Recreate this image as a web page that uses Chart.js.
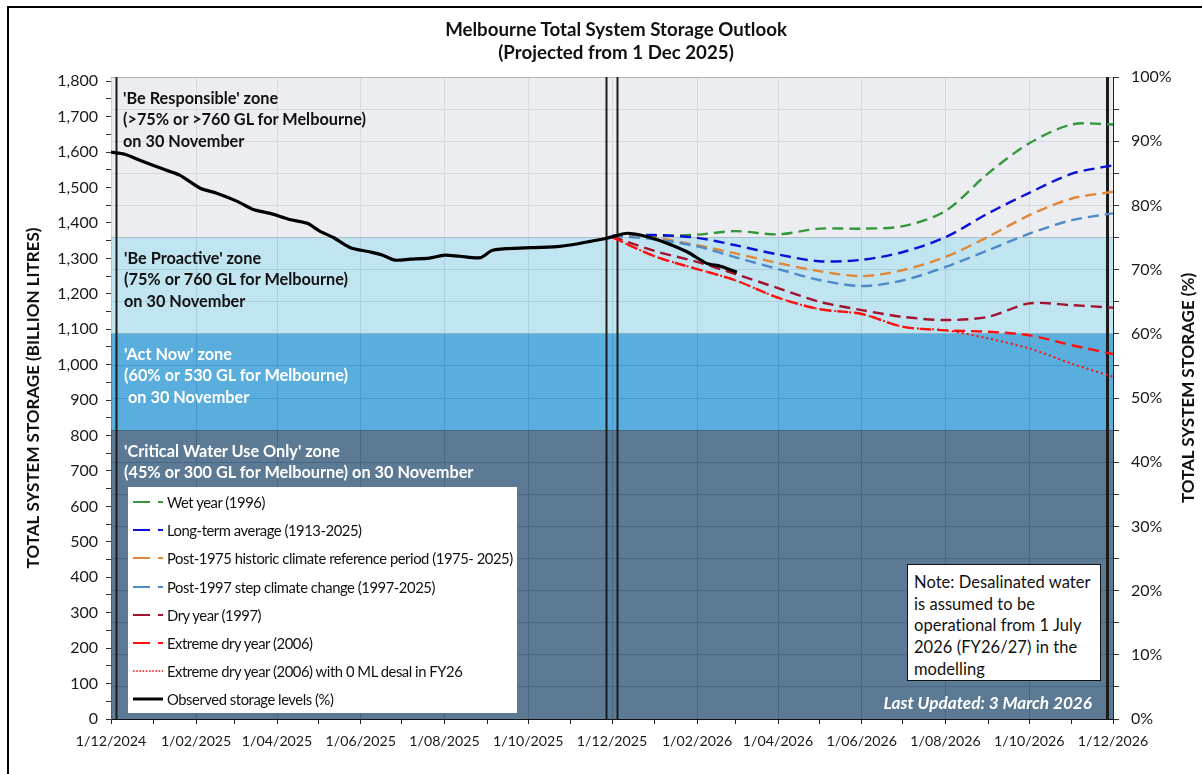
<!DOCTYPE html>
<html><head><meta charset="utf-8">
<script src="https://cdn.jsdelivr.net/npm/chart.js@4"></script>
<style>
body{margin:0;background:#fff;font-family:Lato,'Open Sans',sans-serif;}
#wrap{position:relative;width:1202px;height:774px;overflow:hidden;background:#fff;}
#frame{position:absolute;left:7px;top:6px;width:1400px;height:1000px;border-left:2px solid #000;border-top:2px solid #000;pointer-events:none;}
#cv{position:absolute;left:0;top:0;}
.t{position:absolute;white-space:nowrap;}
.zone{font-weight:700;font-size:16.3px;line-height:21.3px;}
#title{left:616px;top:18px;transform:translateX(-50%);text-align:center;font-weight:700;font-size:18.7px;line-height:23px;color:#111;}
#rtitle{left:1187px;top:388px;transform:translate(-50%,-50%) rotate(-90deg);font-weight:700;font-size:17px;color:#111;}
#legend{position:absolute;left:128px;top:487px;width:389px;height:226px;background:#fff;}
.li{position:absolute;left:0;height:28px;display:flex;align-items:center;white-space:nowrap;}
.li svg{margin-left:5px;margin-right:4px;flex:none;}
.li span{font-size:14.8px;letter-spacing:-0.45px;color:#111;white-space:nowrap;}
#note{position:absolute;left:907px;top:564px;width:192px;height:115px;background:#fff;border:1.5px solid #111;box-sizing:content-box;}
#note div{padding:7px 0 0 6px;font-size:16.5px;line-height:21.7px;color:#111;letter-spacing:0.05px;white-space:nowrap;}
#upd{right:110px;top:692px;font-weight:700;font-style:italic;font-size:17.2px;color:#fff;line-height:22px;}
</style></head>
<body>
<div id="wrap">
<canvas id="cv" width="1202" height="774"></canvas>
<div id="frame"></div>
<div id="title" class="t">Melbourne Total System Storage Outlook<br>(Projected from 1 Dec 2025)</div>
<div class="t zone" style="left:123px;top:87px;color:#111">'Be Responsible' zone<br>(&gt;75% or &gt;760 GL for Melbourne)<br>on 30 November</div>
<div class="t zone" style="left:124px;top:247px;color:#111">'Be Proactive' zone<br>(75% or 760 GL for Melbourne)<br>on 30 November</div>
<div class="t zone" style="left:124px;top:343px;color:#fff">'Act Now' zone<br>(60% or 530 GL for Melbourne)<br>&nbsp;on 30 November</div>
<div class="t zone" style="left:124px;top:440px;color:#fff">'Critical Water Use Only' zone<br>(45% or 300 GL for Melbourne) on 30 November</div>
<div id="rtitle" class="t">TOTAL SYSTEM STORAGE (%)</div>
<div id="legend"></div>
<div id="note"><div>Note: Desalinated water<br>is assumed to be<br>operational from 1 July<br>2026 (FY26/27) in the<br>modelling</div></div>
<div id="upd" class="t">Last Updated: 3 March 2026</div>
</div>
<script>
// ---------- DATA ----------
const xStart = '2024-12-01';
const xEnd = '2026-12-01';
const capacityGL = 1812;

const obsDates = ['2024-12-01','2024-12-11','2024-12-22','2025-01-08','2025-01-20','2025-02-04','2025-02-16','2025-03-03','2025-03-14','2025-03-27','2025-04-10','2025-04-23','2025-05-02','2025-05-12','2025-05-24','2025-06-08','2025-06-17','2025-06-26','2025-07-07','2025-07-21','2025-08-01','2025-08-12','2025-08-27','2025-09-05','2025-09-25','2025-10-10','2025-10-24','2025-11-04','2025-11-15','2025-11-27','2025-12-02','2025-12-12','2025-12-26','2026-01-10','2026-01-25','2026-02-08','2026-02-18','2026-03-02'];
const obsValues = [1600,1594,1577,1552,1535,1498,1484,1461,1439,1427,1410,1399,1377,1359,1331,1318,1309,1295,1298,1301,1309,1306,1302,1323,1329,1331,1334,1340,1348,1357,1362,1371,1362,1343,1318,1286,1278,1261];

const projDates = ['2025-12-01','2026-01-01','2026-02-01','2026-03-01','2026-04-01','2026-05-01','2026-06-01','2026-07-01','2026-08-01','2026-09-01','2026-10-01','2026-11-01','2026-12-01'];
const wetYear       = [1363,1363,1367,1377,1368,1384,1384,1391,1434,1540,1625,1678,1678];
const longTermAvg   = [1364,1366,1358,1337,1311,1292,1296,1318,1360,1427,1485,1539,1563];
const post1975      = [1364,1358,1337,1314,1287,1264,1250,1267,1304,1361,1422,1469,1488];
const post1997      = [1364,1354,1334,1303,1270,1239,1222,1238,1276,1323,1370,1408,1427];
const dryYear       = [1362,1321,1290,1256,1216,1178,1154,1135,1126,1135,1173,1168,1161];
const extremeDry    = [1360,1306,1270,1238,1189,1157,1143,1107,1097,1093,1083,1055,1030];
const extremeDryNoDesal = [1360,1306,1270,1238,1189,1157,1143,1107,1097,1074,1046,1003,966];

const zoneTops = [815.4, 1087.2, 1359, 1812];   // GL (45%, 60%, 75%, 100%)
const markerDates = ['2024-12-05','2025-11-27','2025-12-05','2026-11-27'];

const seriesLabels = ['Wet year (1996)','Long-term average (1913-2025)','Post-1975 historic climate reference period (1975- 2025)','Post-1997 step climate change (1997-2025)','Dry year (1997)','Extreme dry year (2006)','Extreme dry year (2006) with 0 ML desal in FY26','Observed storage levels (%)'];
const seriesColors = ['#35963a','#0a12d6','#e0883a','#4e89c9','#a3122e','#ff1010','#ff1010','#000000'];
const zoneColors = ['rgba(64,99,129,0.85)','rgba(61,160,216,0.85)','rgba(181,223,237,0.85)','rgba(233,234,237,0.85)'];

// ---------- HELPERS ----------
const toDay = s => { const [y,m,d] = s.split('-').map(Number); return Date.UTC(y,m-1,d)/86400000; };
const fmt = day => { const dt = new Date(Math.round(day)*86400000); return dt.getUTCDate()+'/'+String(dt.getUTCMonth()+1).padStart(2,'0')+'/'+dt.getUTCFullYear(); };
const pts = (dates, vals) => dates.map((d,i)=>({x:toDay(d), y:vals[i]}));
const x0 = toDay(xStart), x1 = toDay(xEnd);

Chart.defaults.font.family = 'Lato';
const gridCol = 'rgb(120,126,132)';

const datasets = [];
zoneTops.forEach((top,i)=>{
  datasets.push({
    data:[{x:x0,y:top},{x:x1,y:top}],
    borderWidth: i===3 ? 1.2 : 0,
    borderColor: i===3 ? '#8c8c8c' : 'rgba(0,0,0,0)',
    backgroundColor: zoneColors[i],
    fill: i===0 ? 'origin' : i-1,
    pointRadius:0, order:100+i, tension:0
  });
});
markerDates.forEach((d,i)=>{
  datasets.push({data:[{x:toDay(d),y:0},{x:toDay(d),y:capacityGL}], borderColor:'#1c1c1c', borderWidth: i===3?3:2, pointRadius:0, fill:false, order:50});
});
const proj = [wetYear,longTermAvg,post1975,post1997,dryYear,extremeDry];
proj.forEach((vals,i)=>{
  datasets.push({data:pts(projDates,vals), borderColor:seriesColors[i], borderWidth:2.4, borderDash:[11,6], pointRadius:0, fill:false, tension:0.3, order:10-i});
});
datasets.push({data:pts(projDates,extremeDryNoDesal), borderColor:seriesColors[6], borderWidth:2, borderDash:[2,3], pointRadius:0, fill:false, tension:0.3, order:2});
datasets.push({data:pts(obsDates,obsValues), borderColor:'#000', borderWidth:3.2, pointRadius:0, fill:false, tension:0.25, order:0});

const monthTicks = [];
{ let y=2024, m=11; while (true) { const d = Date.UTC(y,m,1)/86400000; if (d > x1) break; monthTicks.push(d); m++; if (m>11){m=0;y++;} } }

new Chart(document.getElementById('cv'), {
  type:'line',
  data:{datasets},
  options:{
    responsive:false, animation:false,
    layout:{padding:{top:77,left:0,right:0,bottom:0}},
    plugins:{legend:{display:false}, tooltip:{enabled:false}, title:{display:false}},
    scales:{
      x:{type:'linear', min:x0, max:x1, position:'bottom',
        afterBuildTicks: s => { s.ticks = monthTicks.map(v=>({value:v})); },
        afterFit: s => { s.height = 55; },
        ticks:{autoSkip:false, maxRotation:0, minRotation:0, padding:9, color:'#1a1a1a', font:{size:14.2},
          callback:(v,i)=> i%2===0 ? fmt(v) : ''},
        grid:{color: c => (c.index%2===0 ? gridCol : 'rgba(0,0,0,0)'), tickColor:'#222', tickLength:5, lineWidth:1},
        border:{color:'#111', width:1}
      },
      y:{type:'linear', position:'left', min:0, max:capacityGL,
        afterBuildTicks: s => { const t=[]; for(let v=0; v<=1800; v+=50) t.push({value:v}); s.ticks=t; },
        afterFit: s => { s.width = 111; },
        ticks:{autoSkip:false, padding:8, color:'#1a1a1a', font:{size:16},
          callback: v => v%100===0 ? v.toLocaleString('en-US') : ''},
        grid:{drawOnChartArea:false, tickColor:'#333', tickLength:5},
        border:{color:'#555', width:1},
        title:{display:true, text:'TOTAL SYSTEM STORAGE (BILLION LITRES)', color:'#111', font:{size:17, weight:'bold'}, padding:{top:23,bottom:0}}
      },
      y2:{type:'linear', position:'right', min:0, max:100,
        afterBuildTicks: s => { const t=[]; for(let v=0; v<=100; v+=5) t.push({value:v}); s.ticks=t; },
        afterFit: s => { s.width = 89; },
        ticks:{autoSkip:false, padding:12, color:'#1a1a1a', font:{size:16},
          callback: v => v%10===0 ? v+'%' : ''},
        grid:{color:gridCol, tickColor:'#333', tickLength:6, lineWidth:1},
        border:{color:'#222', width:1}
      }
    }
  }
});

const leg = document.getElementById('legend');
seriesLabels.forEach((lab,i)=>{
  const row = document.createElement('div');
  row.className='li'; row.style.top = (1 + i*28.2)+'px';
  let sym;
  if (i===7) sym = `<line x1="0" y1="5" x2="30" y2="5" stroke="${seriesColors[i]}" stroke-width="3"/>`;
  else if (i===6) sym = `<line x1="0" y1="5" x2="30" y2="5" stroke="${seriesColors[i]}" stroke-width="1.6" stroke-dasharray="1.6,1.6"/>`;
  else sym = `<line x1="0" y1="5" x2="17" y2="5" stroke="${seriesColors[i]}" stroke-width="2"/><line x1="25" y1="5" x2="30" y2="5" stroke="${seriesColors[i]}" stroke-width="2"/>`;
  row.innerHTML = `<svg width="30" height="10">${sym}</svg><span>${lab}</span>`;
  leg.appendChild(row);
});
</script>
</body></html>
